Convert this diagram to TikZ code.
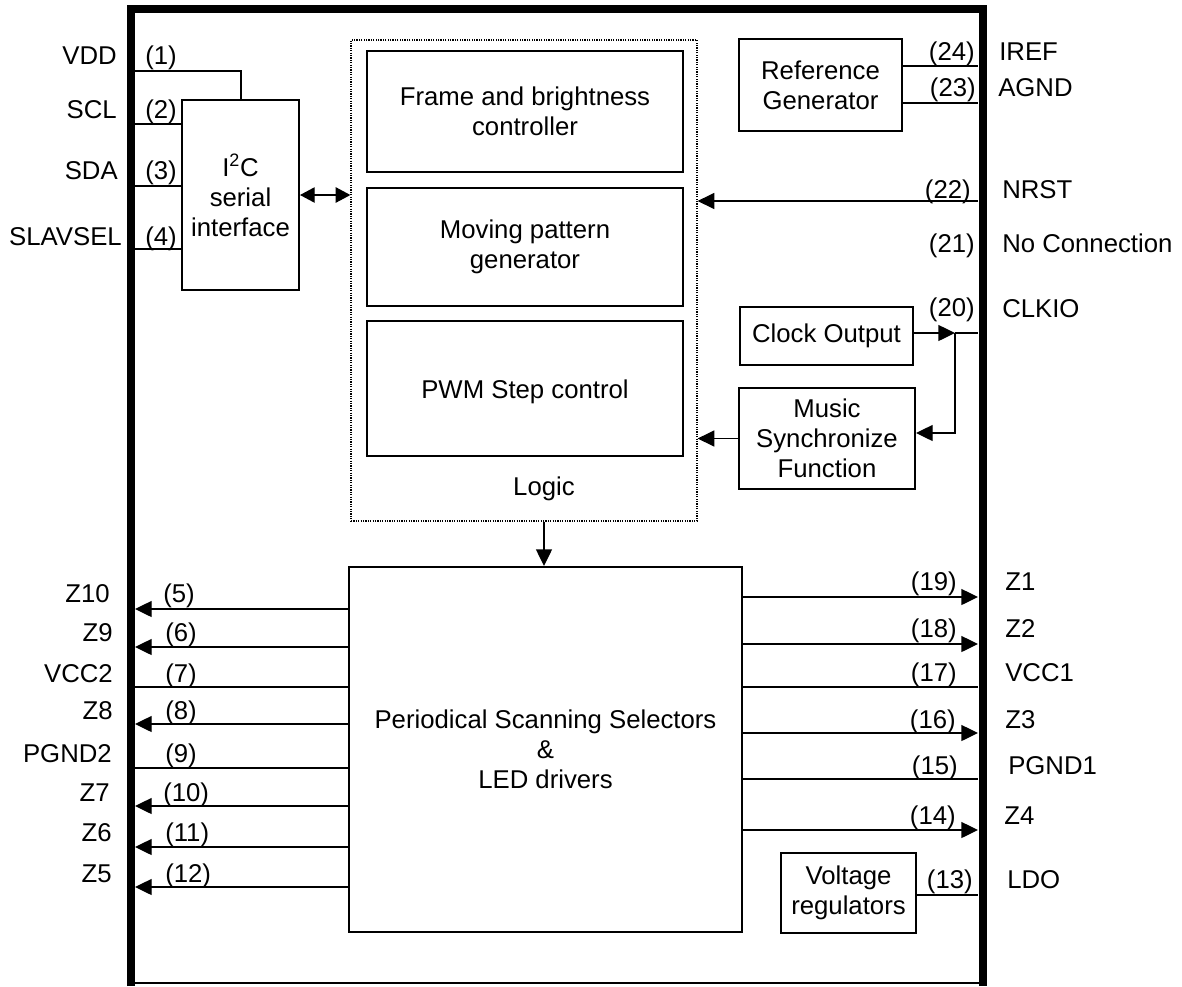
\documentclass[tikz,border=0pt]{standalone}
\usepackage{fontspec}
\setmainfont{Liberation Sans}
\usetikzlibrary{arrows.meta}
\newcommand\dfont{\fontsize{19.3}{22.5}\selectfont}
\begin{document}
\begin{tikzpicture}[x=0.75pt,y=-0.75pt,
 box/.style={draw, line width=1.5pt, align=center, inner sep=0pt, font=\dfont},
 txt/.style={inner sep=0pt, font=\dfont},
 pin/.style={line width=1.5pt},
 sig/.style={line width=1pt, -{Triangle[length=12.5pt,width=12pt]}},
 dsig/.style={line width=1pt, {Triangle[length=11pt,width=11.5pt]}-{Triangle[length=11pt,width=11.5pt]}},
 nl/.style={txt, anchor=base east},
 nr/.style={txt, anchor=base west},
]
\useasboundingbox (0,0) rectangle (1182,986);
% package outline
\draw[line width=6pt, line join=miter] (131,986) -- (131,9) -- (982.5,9) -- (982.5,986);
\draw[line width=1.5pt] (131,983) -- (982.5,983);

% blocks
\node[box, minimum width=87.75pt, minimum height=142.5pt] (i2c) at (240.5,195) {I\textsuperscript{2}C\\serial\\interface};
\node[draw, line width=0.9pt, dash pattern=on 0.9pt off 0.9pt, minimum width=259.5pt, minimum height=360.75pt, inner sep=0pt] (logic) at (524,280.5) {};
\node[box, minimum width=237pt, minimum height=90.75pt] (frame) at (525,111.5) {Frame and brightness\\controller};
\node[box, minimum width=237pt, minimum height=88.5pt] (move) at (525,247) {Moving pattern\\generator};
\node[box, minimum width=237pt, minimum height=101.25pt] (pwm) at (525,388.5) {};
\node[txt, anchor=base] (pwmtxt) at (525,398) {PWM Step control};
\node[txt, anchor=base] (logiclbl) at (544,495) {Logic};
\node[box, minimum width=294.75pt, minimum height=273.75pt] (psd) at (545.5,749.5) {Periodical Scanning Selectors\\\&\\LED drivers};
\node[box, minimum width=122.25pt, minimum height=69pt] (ref) at (820.5,85) {Reference\\Generator};
\node[box, minimum width=129.75pt, minimum height=43.5pt] (clk) at (826.5,336) {Clock Output};
\node[box, minimum width=132pt, minimum height=75.75pt] (music) at (827,438.5) {Music\\Synchronize\\Function};
\node[box, minimum width=101.25pt, minimum height=60pt] (volt) at (848.5,893) {Voltage\\regulators};

% pin points on the package edge
\coordinate (p1) at (135,71);
\coordinate (p2) at (135,124);
\coordinate (p3) at (135,186);
\coordinate (p4) at (135,249);
\coordinate (p5) at (135,609);
\coordinate (p6) at (135,647);
\coordinate (p7) at (135,687);
\coordinate (p8) at (135,724);
\coordinate (p9) at (135,768);
\coordinate (p10) at (135,806);
\coordinate (p11) at (135,847);
\coordinate (p12) at (135,887);
\coordinate (p13) at (978,895);
\coordinate (p14) at (978,830);
\coordinate (p15) at (978,779);
\coordinate (p16) at (978,733);
\coordinate (p17) at (978,687);
\coordinate (p18) at (978,644);
\coordinate (p19) at (978,597);
\coordinate (p20) at (978,333);
\coordinate (p22) at (978,201);
\coordinate (p23) at (978,103);
\coordinate (p24) at (978,66);
\coordinate (cj) at (955,333);
\coordinate (mj) at (955,433);

% left labels
\node[nl] (nVDD) at (117,64) {VDD};
\node[nl] (nSCL) at (117,118) {SCL};
\node[nl] (nSDA) at (118,179) {SDA};
\node[nl] (nSLAV) at (122,245) {SLAVSEL};
\node[nl] (nZ10) at (110,602) {Z10};
\node[nl] (nZ9) at (113,641) {Z9};
\node[nl] (nVCC2) at (113,682) {VCC2};
\node[nl] (nZ8) at (113,719) {Z8};
\node[nl] (nPGND2) at (112,762) {PGND2};
\node[nl] (nZ7) at (110,801) {Z7};
\node[nl] (nZ6) at (112,841) {Z6};
\node[nl] (nZ5) at (112,882) {Z5};
\node[nr] (k1) at (145,64) {(1)};
\node[nr] (k2) at (145,118) {(2)};
\node[nr] (k3) at (145,179) {(3)};
\node[nr] (k4) at (145,245) {(4)};
\node[nr] (k5) at (163,602) {(5)};
\node[nr] (k6) at (165,641) {(6)};
\node[nr] (k7) at (165,682) {(7)};
\node[nr] (k8) at (165,719) {(8)};
\node[nr] (k9) at (165,762) {(9)};
\node[nr] (k10) at (163,801) {(10)};
\node[nr] (k11) at (165,841) {(11)};
\node[nr] (k12) at (165,882) {(12)};

% right labels
\node[nl] (k24) at (975,60) {(24)};
\node[nl] (k23) at (976,96) {(23)};
\node[nl] (k22) at (971,198) {(22)};
\node[nl] (k21) at (975,252) {(21)};
\node[nl] (k20) at (975,316) {(20)};
\node[nl] (k19) at (957,590) {(19)};
\node[nl] (k18) at (957,637) {(18)};
\node[nl] (k17) at (957,681) {(17)};
\node[nl] (k16) at (956,728) {(16)};
\node[nl] (k15) at (958,774) {(15)};
\node[nl] (k14) at (956,824) {(14)};
\node[nl] (k13) at (973,888) {(13)};
\node[nr] (nIREF) at (999,60) {IREF};
\node[nr] (nAGND) at (998,96) {AGND};
\node[nr] (nNRST) at (1002,198) {NRST};
\node[nr] (nNC) at (1002,252) {No Connection};
\node[nr] (nCLKIO) at (1002,317) {CLKIO};
\node[nr] (nZ1) at (1005,590) {Z1};
\node[nr] (nZ2) at (1005,637) {Z2};
\node[nr] (nVCC1) at (1005,681) {VCC1};
\node[nr] (nZ3) at (1005,728) {Z3};
\node[nr] (nPGND1) at (1008,774) {PGND1};
\node[nr] (nZ4) at (1004,824) {Z4};
\node[nr] (nLDO) at (1007,888) {LDO};

% connectors: I2C side
\draw[pin] (p1) -| (i2c.north);
\draw[pin] (p2) -- (p2 -| i2c.west);
\draw[pin] (p3) -- (p3 -| i2c.west);
\draw[pin] (p4) -- (p4 -| i2c.west);
\draw[dsig] (i2c.east) -- (i2c.east -| logic.west);

% right upper
\draw[pin] (p24 -| ref.east) -- (p24);
\draw[pin] (p23 -| ref.east) -- (p23);
\draw[sig] (p22) -- (p22 -| logic.east);
\draw[sig] (clk.east |- cj) -- (cj);
\draw[pin] (cj) -- (p20);
\draw[sig] (cj) -- (mj) -- (mj -| music.east);
\draw[sig] (music.west) -- (music.west -| logic.east);
\draw[sig] (logiclbl |- logic.south) -- (logiclbl |- psd.north);

% scanning selector outputs
\draw[sig] (p5 -| psd.west) -- (p5);
\draw[sig] (p6 -| psd.west) -- (p6);
\draw[pin] (p7 -| psd.west) -- (p7);
\draw[sig] (p8 -| psd.west) -- (p8);
\draw[pin] (p9 -| psd.west) -- (p9);
\draw[sig] (p10 -| psd.west) -- (p10);
\draw[sig] (p11 -| psd.west) -- (p11);
\draw[sig] (p12 -| psd.west) -- (p12);
\draw[sig] (p19 -| psd.east) -- (p19);
\draw[sig] (p18 -| psd.east) -- (p18);
\draw[pin] (p17 -| psd.east) -- (p17);
\draw[sig] (p16 -| psd.east) -- (p16);
\draw[pin] (p15 -| psd.east) -- (p15);
\draw[sig] (p14 -| psd.east) -- (p14);
\draw[pin] (p13 -| volt.east) -- (p13);
\end{tikzpicture}
\end{document}
